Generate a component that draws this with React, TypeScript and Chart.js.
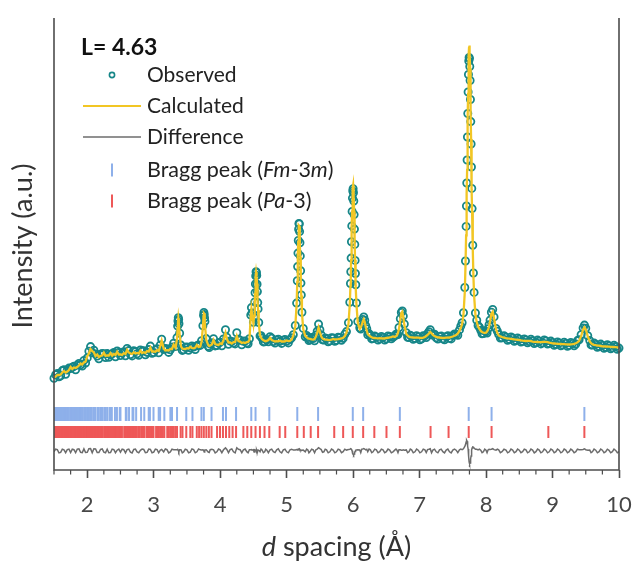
import { useEffect, useRef } from "react";
import { Chart, registerables } from "chart.js";

Chart.register(...registerables);

// d spacing (Å) of each profile point
const dSpacing = [
  1.5, 1.525, 1.55, 1.575, 1.6, 1.625, 1.65, 1.675, 1.7, 1.725,
  1.75, 1.775, 1.8, 1.825, 1.85, 1.875, 1.9, 1.925, 1.95, 1.975,
  2.0, 2.025, 2.05, 2.075, 2.1, 2.125, 2.15, 2.175, 2.2, 2.225,
  2.25, 2.275, 2.3, 2.325, 2.35, 2.375, 2.4, 2.425, 2.45, 2.475,
  2.5, 2.525, 2.55, 2.575, 2.6, 2.625, 2.65, 2.675, 2.7, 2.725,
  2.75, 2.775, 2.8, 2.825, 2.85, 2.875, 2.9, 2.925, 2.95, 2.975,
  3.0, 3.025, 3.05, 3.075, 3.1, 3.12, 3.15, 3.175, 3.2, 3.225,
  3.25, 3.275, 3.3, 3.33, 3.35, 3.36, 3.365, 3.37, 3.375, 3.38,
  3.39, 3.41, 3.43, 3.45, 3.475, 3.5, 3.525, 3.55, 3.575, 3.6,
  3.625, 3.65, 3.675, 3.7, 3.72, 3.74, 3.75, 3.755, 3.76, 3.765,
  3.77, 3.79, 3.82, 3.835, 3.85, 3.875, 3.9, 3.925, 3.95, 3.975,
  4.0, 4.025, 4.05, 4.08, 4.1, 4.125, 4.15, 4.175, 4.2, 4.225,
  4.25, 4.275, 4.3, 4.325, 4.35, 4.375, 4.4, 4.42, 4.44, 4.46,
  4.47, 4.48, 4.5, 4.51, 4.52, 4.525, 4.53, 4.535, 4.54, 4.545,
  4.55, 4.555, 4.56, 4.565, 4.57, 4.58, 4.6, 4.615, 4.63, 4.65,
  4.67, 4.685, 4.7, 4.725, 4.75, 4.775, 4.8, 4.825, 4.85, 4.875,
  4.9, 4.925, 4.95, 4.975, 5.0, 5.025, 5.05, 5.075, 5.1, 5.13,
  5.15, 5.16, 5.165, 5.17, 5.175, 5.18, 5.185, 5.19, 5.195, 5.2,
  5.205, 5.21, 5.215, 5.22, 5.23, 5.25, 5.28, 5.3, 5.32, 5.335,
  5.35, 5.375, 5.4, 5.42, 5.44, 5.46, 5.48, 5.5, 5.52, 5.54,
  5.56, 5.58, 5.6, 5.625, 5.65, 5.675, 5.7, 5.725, 5.75, 5.775,
  5.8, 5.825, 5.85, 5.875, 5.9, 5.93, 5.95, 5.96, 5.965, 5.97,
  5.975, 5.98, 5.985, 5.99, 5.995, 6.0, 6.005, 6.01, 6.015, 6.02,
  6.025, 6.03, 6.035, 6.04, 6.05, 6.07, 6.1, 6.115, 6.13, 6.145,
  6.16, 6.175, 6.19, 6.205, 6.22, 6.24, 6.26, 6.28, 6.3, 6.325,
  6.35, 6.375, 6.4, 6.425, 6.45, 6.475, 6.5, 6.525, 6.55, 6.575,
  6.6, 6.63, 6.645, 6.66, 6.675, 6.69, 6.71, 6.725, 6.74, 6.755,
  6.77, 6.8, 6.82, 6.84, 6.86, 6.88, 6.905, 6.93, 6.955, 6.98,
  7.005, 7.03, 7.055, 7.08, 7.1, 7.12, 7.14, 7.16, 7.18, 7.2,
  7.225, 7.25, 7.275, 7.3, 7.325, 7.35, 7.375, 7.4, 7.425, 7.45,
  7.475, 7.5, 7.525, 7.55, 7.575, 7.6, 7.62, 7.64, 7.66, 7.68,
  7.69, 7.7, 7.705, 7.71, 7.715, 7.72, 7.725, 7.73, 7.735, 7.74,
  7.745, 7.75, 7.755, 7.76, 7.765, 7.77, 7.775, 7.78, 7.785, 7.79,
  7.8, 7.81, 7.82, 7.84, 7.86, 7.88, 7.9, 7.92, 7.94, 7.96,
  7.98, 8.0, 8.015, 8.03, 8.045, 8.06, 8.08, 8.1, 8.12, 8.15,
  8.17, 8.19, 8.215, 8.24, 8.27, 8.3, 8.325, 8.35, 8.375, 8.4,
  8.425, 8.45, 8.475, 8.5, 8.525, 8.55, 8.575, 8.6, 8.625, 8.65,
  8.675, 8.7, 8.725, 8.75, 8.775, 8.8, 8.825, 8.85, 8.875, 8.9,
  8.925, 8.95, 8.975, 9.0, 9.025, 9.05, 9.075, 9.1, 9.125, 9.15,
  9.175, 9.2, 9.225, 9.25, 9.275, 9.3, 9.325, 9.35, 9.375, 9.4,
  9.43, 9.46, 9.48, 9.5, 9.53, 9.56, 9.58, 9.6, 9.625, 9.65,
  9.675, 9.7, 9.725, 9.75, 9.775, 9.8, 9.825, 9.85, 9.875, 9.9,
  9.925, 9.95, 9.975, 10.0,
];

// measured intensity (a.u.)
const observed = [
  91.8, 95.3, 96.4, 93.2, 94.1, 99.4, 100.2, 95.8, 99.9, 101.9,
  101.4, 102.8, 103.8, 100.3, 104.9, 106.6, 105.2, 103.9, 109.6, 107,
  112.1, 118.7, 123.4, 117.2, 119.8, 116.1, 113.9, 111.2, 115.7, 116.6,
  116.2, 112.5, 116.4, 112.7, 115.3, 116.2, 117.5, 113.3, 119.1, 117.4,
  114.5, 116.9, 118.2, 114.2, 121.6, 119.4, 115.4, 114.1, 119.3, 118.4,
  116.2, 114.8, 120.1, 118.9, 119.2, 115.3, 117.6, 120.4, 123.9, 116.7,
  117.5, 120.1, 121.3, 117.2, 125.1, 130.8, 120.6, 121.5, 121.1, 117.6,
  120.2, 122.9, 126.7, 123.5, 132.4, 143.9, 149.1, 152.3, 150.6, 146.2,
  136.8, 124.9, 119.6, 120.3, 122.8, 122.9, 119.7, 122.1, 124.1, 123,
  120.5, 124.2, 125.1, 124.6, 129.3, 144.2, 154.6, 157.5, 155.4, 152.1,
  148.6, 131.4, 123.8, 122.5, 125.9, 127.3, 131.2, 124.1, 124.5, 127,
  127.7, 124.3, 131.1, 140.2, 132.8, 125.8, 128.9, 128.6, 127, 126.1,
  137.3, 130.7, 129.7, 125.3, 128.8, 129, 127.1, 126.2, 131.2, 154.9,
  162.4, 157.1, 147.8, 152.9, 168.1, 177.2, 186, 194.1, 198.3, 197.2,
  194.6, 185.7, 178.4, 167.4, 161.1, 147.5, 134.1, 134.2, 131.8, 128.1,
  128.3, 130.6, 130.1, 128.3, 133.2, 131.8, 128.5, 126.9, 129.9, 130.7,
  128.6, 126.6, 129.7, 130.5, 128.8, 127.1, 130.4, 132.3, 135.2, 144.5,
  166.9, 189.2, 203.4, 216.9, 229.5, 240.8, 246.6, 246.1, 238.4, 227.2,
  214.1, 199.3, 186.9, 175.1, 157.8, 141.6, 133.3, 134.6, 132.5, 129.5,
  130.4, 132.4, 131.5, 129.3, 134.8, 138.9, 145.9, 140.3, 135.1, 130.2,
  129.9, 132.1, 131.4, 128.2, 129.1, 132.2, 131.9, 128.7, 129.8, 132.7,
  132.3, 129.8, 131.6, 135.8, 138.4, 147.3, 167.8, 186.5, 198.2, 211.9,
  228.3, 244.1, 258.6, 271.9, 279, 281.2, 277.3, 269, 255.4, 240.9,
  225.6, 209.6, 196.5, 185.3, 167, 148.5, 142.2, 140.9, 146.9, 150.6,
  153.1, 149.8, 144.4, 141.2, 135.3, 136.4, 134.6, 131.1, 131.4, 133.9,
  132.9, 129.9, 131.2, 133.5, 132.6, 129.9, 131.3, 134.1, 133.4, 131.2,
  132.8, 134.2, 135.7, 135.6, 135.4, 142.5, 151.3, 157.6, 159.1, 153.9,
  146, 137.2, 132.8, 132.4, 134.8, 133.8, 130.7, 131.6, 134.2, 133.1,
  130.3, 131.2, 134.3, 134.1, 132.4, 136.4, 138.3, 140.3, 135.1, 135.9,
  135.8, 132.2, 130.9, 133.6, 134.1, 131.3, 130.2, 133.2, 134.3, 131.7,
  131.1, 134.4, 136.1, 135.8, 134.8, 140.1, 143.9, 147.3, 157.2, 182.5,
  209, 243.6, 264, 287, 310, 333, 356.5, 378, 395.5, 409,
  412.5, 411.4, 403.5, 389.5, 370.5, 348.4, 326, 303, 281.6, 261.4,
  224.8, 197, 177.6, 157, 149.7, 144.4, 142.8, 139.8, 136.3, 136.5,
  139.1, 138.2, 136.9, 141.3, 145.2, 149.9, 157.8, 160.5, 153.1, 141.5,
  138.8, 135.6, 131.9, 132.3, 134.2, 132.8, 129.8, 130.6, 133.1, 131.9,
  128.8, 129.7, 132.1, 130.8, 127.9, 128.6, 131, 130.1, 127.3, 128.4,
  130.7, 129.3, 126.4, 127.5, 129.9, 128.7, 126.1, 127.2, 130, 129,
  126, 126.6, 128.9, 127.5, 124.7, 125.7, 128.1, 126.9, 124.2, 125.1,
  127.7, 126.6, 123.8, 124.8, 127.5, 126.5, 124.3, 126, 129.4, 130.3,
  135.2, 142.1, 144.9, 141.8, 134.3, 129.4, 125.1, 124.9, 127.1, 125.6,
  122.7, 123.6, 125.9, 124.5, 121.8, 122.8, 125.2, 124, 121.3, 122.3,
  124.8, 123.4, 120.8, 121.9,
];

// refined model intensity (a.u.)
const calculated = [
  92.5, 93.5, 95, 95, 95.5, 97.5, 99, 97.5, 98.5, 100,
  103, 101, 102.5, 102, 103, 104.5, 106.5, 105.5, 107.5, 108.5,
  113.5, 116.5, 121, 119, 117.5, 114, 115.5, 112.8, 114, 114.5,
  117.3, 114.2, 114.6, 114.5, 116.9, 114.3, 116.1, 115, 118.3, 115.5,
  115.6, 115, 116.9, 116, 120.2, 117.5, 116.5, 116, 117.8, 116.5,
  117.1, 116.5, 119.4, 117, 117.7, 117, 119, 118.5, 122.3, 118.5,
  118.6, 118.2, 119.9, 119, 124.2, 129.3, 121.5, 119.5, 119.8, 119.5,
  121.1, 121, 125.4, 122.3, 131.2, 142.2, 148, 151.6, 151.3, 147.1,
  135.6, 123.7, 121.5, 121.2, 121, 121.8, 121.5, 123.2, 122, 121.6,
  122.3, 125, 123, 123.4, 128.2, 142.9, 153.8, 156.7, 156.3, 153,
  147.8, 130.2, 124.9, 124, 124.6, 125.5, 130, 126, 125.3, 125,
  126.6, 126, 129.9, 137.1, 131.2, 127.5, 127.5, 126.5, 127.8, 128,
  134.1, 129, 128.4, 127, 127.6, 127, 127.8, 128, 130, 153.6,
  161, 156.2, 146.5, 153.8, 166.8, 176, 185.3, 193.2, 197.7, 198,
  193.7, 186.3, 177.2, 168, 160, 146.6, 134.9, 132.3, 130.7, 129.8,
  129.1, 128.8, 129, 130, 132.1, 130, 129.2, 128.5, 128.8, 128.6,
  129.4, 128.5, 128.5, 128.7, 129.6, 128.9, 129.2, 130.5, 134.3, 143.4,
  165.5, 188.1, 202, 215.4, 228.2, 239.2, 244.5, 243.8, 236.9, 226,
  213.2, 198.7, 186, 174.4, 157, 140.7, 134.1, 132.8, 131.6, 131.3,
  131.2, 130.6, 130.4, 131, 133.5, 137, 142.6, 138, 133.7, 131.5,
  130.7, 130.3, 130.3, 130, 129.9, 130.3, 131, 130.5, 130.6, 130.8,
  131.2, 131.5, 132.3, 134, 137.5, 145.9, 166, 184.4, 196, 209.8,
  226.8, 242.9, 258.4, 273, 281.5, 284.6, 281.5, 273.1, 258.5, 243.1,
  227, 210, 196.2, 184.6, 166.1, 147.3, 141.1, 142.5, 145, 148.5,
  150.7, 148, 143.2, 139.5, 136, 134.5, 133.5, 132.8, 132.2, 132,
  131.8, 131.7, 131.9, 131.6, 131.5, 131.7, 132, 132.2, 132.5, 133,
  133.6, 133.1, 133.8, 134.7, 137, 141.2, 150.1, 156.8, 158.3, 152.8,
  145.2, 136.1, 134.5, 133.2, 132.9, 132.7, 132.5, 132.4, 132.3, 132.3,
  132.1, 132, 132.4, 133, 134, 135, 136.5, 138, 136.8, 135,
  134, 133, 132.7, 132.5, 132.2, 132, 132.1, 132.3, 132.4, 132.5,
  133, 133.5, 134.2, 135, 136.5, 139, 142, 146, 155, 178,
  202.8, 234.6, 254.2, 276.2, 300.2, 325.4, 351.5, 376, 397.5, 414.2,
  423.5, 424.4, 416.5, 401.5, 380.5, 356.4, 330.9, 305.2, 280.6, 258.4,
  220.8, 193.2, 174.6, 155.2, 148, 143.4, 141, 139, 138, 137.3,
  137.2, 137.3, 138.5, 140.2, 143.5, 148.4, 156, 158.2, 151.7, 140.7,
  137, 134.5, 133.6, 133, 132.4, 131.9, 131.6, 131.4, 131.2, 130.9,
  130.6, 130.4, 130.2, 130, 129.6, 129.3, 129.1, 129, 129.1, 129.2,
  128.8, 128.4, 128.2, 128.1, 128, 127.8, 127.9, 128, 128.1, 128.2,
  127.8, 127.4, 127, 126.6, 126.5, 126.4, 126.2, 126.1, 126, 125.9,
  125.8, 125.7, 125.6, 125.5, 125.6, 125.8, 126.1, 126.7, 127.6, 129.1,
  133.9, 140.6, 142.8, 140.5, 133.6, 128.5, 126.8, 125.7, 125.2, 124.8,
  124.5, 124.3, 124, 123.7, 123.6, 123.5, 123.4, 123.3, 123.1, 123,
  122.9, 122.8, 122.6, 122.5,
];

// reflection positions (Å), cubic Fm-3m phase
const braggFm3m = [
  1.511, 1.518, 1.528, 1.53, 1.538, 1.548, 1.55, 1.558, 1.569, 1.572,
  1.58, 1.594, 1.602, 1.614, 1.617, 1.626, 1.638, 1.641, 1.65, 1.663,
  1.666, 1.676, 1.692, 1.702, 1.716, 1.72, 1.745, 1.749, 1.76, 1.776,
  1.779, 1.791, 1.812, 1.824, 1.841, 1.846, 1.859, 1.877, 1.882, 1.896,
  1.915, 1.92, 1.935, 1.961, 1.976, 1.998, 2.004, 2.021, 2.044, 2.05,
  2.068, 2.094, 2.1, 2.12, 2.153, 2.175, 2.204, 2.211, 2.234, 2.266,
  2.274, 2.299, 2.334, 2.342, 2.37, 2.417, 2.447, 2.489, 2.5, 2.58,
  2.592, 2.629, 2.681, 2.694, 2.736, 2.81, 2.858, 2.925, 2.943, 2.997,
  3.075, 3.096, 3.16, 3.251, 3.275, 3.351, 3.49, 3.583, 3.718, 3.754,
  3.87, 4.042, 4.088, 4.239, 4.468, 4.532, 4.739, 5.16, 5.473, 5.995,
  6.151, 6.703, 7.739, 8.083, 9.479,
];

// reflection positions (Å), cubic Pa-3 phase
const braggPa3 = [
  1.503, 1.513, 1.523, 1.533, 1.543, 1.553, 1.564, 1.574, 1.585, 1.597,
  1.608, 1.62, 1.632, 1.644, 1.656, 1.669, 1.682, 1.696, 1.709, 1.723,
  1.738, 1.753, 1.768, 1.783, 1.799, 1.812, 1.824, 1.841, 1.854, 1.868,
  1.882, 1.896, 1.915, 1.93, 1.945, 1.961, 1.971, 1.987, 1.998, 2.009,
  2.021, 2.038, 2.05, 2.062, 2.081, 2.094, 2.106, 2.12, 2.14, 2.153,
  2.167, 2.189, 2.204, 2.219, 2.234, 2.258, 2.266, 2.274, 2.282, 2.29,
  2.299, 2.316, 2.325, 2.334, 2.342, 2.36, 2.37, 2.388, 2.398, 2.417,
  2.427, 2.437, 2.447, 2.468, 2.479, 2.489, 2.5, 2.511, 2.522, 2.556,
  2.568, 2.58, 2.592, 2.604, 2.616, 2.629, 2.655, 2.668, 2.681, 2.694,
  2.708, 2.722, 2.736, 2.765, 2.78, 2.81, 2.826, 2.842, 2.858, 2.891,
  2.908, 2.925, 2.943, 2.961, 2.979, 2.997, 3.036, 3.055, 3.075, 3.096,
  3.117, 3.138, 3.16, 3.204, 3.228, 3.251, 3.275, 3.3, 3.325, 3.351,
  3.405, 3.433, 3.49, 3.551, 3.583, 3.648, 3.683, 3.718, 3.754, 3.792,
  3.83, 3.87, 3.953, 3.997, 4.042, 4.088, 4.137, 4.187, 4.239, 4.349,
  4.408, 4.468, 4.532, 4.598, 4.667, 4.739, 4.895, 4.979, 5.16, 5.258,
  5.362, 5.473, 5.716, 5.85, 5.995, 6.151, 6.319, 6.502, 6.703, 7.165,
  7.436, 7.739, 8.083, 8.937, 9.479,
];

const xTickValues = [2, 3, 4, 5, 6, 7, 8, 9, 10];
const refinementLabel = "L= 4.63";

// vertical placement of the lower traces, in intensity units
const DIFF_OFFSET = 19;
const ROW_FM3M = 56;
const ROW_PA3 = 38;

const TEAL = "rgb(22,134,136)";
const YELLOW = "rgb(242,198,36)";
const GRAY = "rgb(108,108,108)";
const BLUE = "rgb(142,176,234)";
const RED = "rgb(238,88,88)";
const AXIS = "#4d4d4d";
const FONT = "Lato, 'Open Sans', sans-serif";

type Run = { text: string; italic?: boolean; bold?: boolean };

function drawRuns(
  ctx: CanvasRenderingContext2D,
  runs: Run[],
  x: number,
  y: number,
  size: number,
  color: string,
  align: "left" | "center"
) {
  const fontFor = (r: Run) =>
    `${r.italic ? "italic " : ""}${r.bold ? "bold " : ""}${size}px ${FONT}`;
  let total = 0;
  for (const r of runs) {
    ctx.font = fontFor(r);
    total += ctx.measureText(r.text).width;
  }
  let cx = align === "center" ? x - total / 2 : x;
  ctx.fillStyle = color;
  ctx.textAlign = "left";
  for (const r of runs) {
    ctx.font = fontFor(r);
    ctx.fillText(r.text, cx, y);
    cx += ctx.measureText(r.text).width;
  }
}

const decorPlugin = {
  id: "refinementDecor",
  afterDraw(chart: any) {
    const { ctx, chartArea } = chart;
    const xs = chart.scales.x;
    const { left, right, top, bottom } = chartArea;
    ctx.save();

    // frame
    ctx.strokeStyle = AXIS;
    ctx.lineWidth = 1.6;
    ctx.beginPath();
    ctx.moveTo(left, top);
    ctx.lineTo(left, bottom);
    ctx.lineTo(right, bottom);
    ctx.lineTo(right, top);
    ctx.stroke();

    // minor ticks every 0.25 Å
    ctx.lineWidth = 1.2;
    ctx.beginPath();
    for (let k = 0; k <= 34; k++) {
      const v = xs.min + k * 0.25;
      if (Math.abs(v - Math.round(v)) < 1e-6) continue;
      const px = xs.getPixelForValue(v);
      ctx.moveTo(px, bottom);
      ctx.lineTo(px, bottom + 4.5);
    }
    ctx.stroke();

    // axis titles
    ctx.textBaseline = "alphabetic";
    drawRuns(
      ctx,
      [{ text: "d", italic: true }, { text: " spacing (Å)" }],
      (left + right) / 2,
      bottom + 86,
      27,
      "#333",
      "center"
    );
    ctx.save();
    ctx.translate(left - 22, (top + bottom) / 2 + 2);
    ctx.rotate(-Math.PI / 2);
    drawRuns(ctx, [{ text: "Intensity (a.u.)" }], 0, 0, 27, "#333", "center");
    ctx.restore();

    // legend
    const lx = left + 29;
    const tx = left + 93;
    const mx = left + 58;
    ctx.textBaseline = "middle";
    drawRuns(ctx, [{ text: refinementLabel, bold: true }], lx - 2, top + 30, 23, "#111", "left");

    const rows = [top + 57, top + 88, top + 119, top + 152, top + 183];

    ctx.strokeStyle = TEAL;
    ctx.lineWidth = 1.6;
    ctx.beginPath();
    ctx.arc(mx, rows[0], 2.6, 0, Math.PI * 2);
    ctx.stroke();
    drawRuns(ctx, [{ text: "Observed" }], tx, rows[0], 21, "#222", "left");

    ctx.strokeStyle = YELLOW;
    ctx.lineWidth = 2.2;
    ctx.beginPath();
    ctx.moveTo(lx, rows[1]);
    ctx.lineTo(tx - 6, rows[1]);
    ctx.stroke();
    drawRuns(ctx, [{ text: "Calculated" }], tx, rows[1], 21, "#222", "left");

    ctx.strokeStyle = GRAY;
    ctx.lineWidth = 1.5;
    ctx.beginPath();
    ctx.moveTo(lx, rows[2]);
    ctx.lineTo(tx - 6, rows[2]);
    ctx.stroke();
    drawRuns(ctx, [{ text: "Difference" }], tx, rows[2], 21, "#222", "left");

    ctx.strokeStyle = BLUE;
    ctx.lineWidth = 2;
    ctx.beginPath();
    ctx.moveTo(mx, rows[3] - 6.5);
    ctx.lineTo(mx, rows[3] + 6.5);
    ctx.stroke();
    drawRuns(
      ctx,
      [
        { text: "Bragg peak (" },
        { text: "Fm", italic: true },
        { text: "-3" },
        { text: "m", italic: true },
        { text: ")" },
      ],
      tx,
      rows[3],
      21.5,
      "#222",
      "left"
    );

    ctx.strokeStyle = RED;
    ctx.beginPath();
    ctx.moveTo(mx, rows[4] - 6.5);
    ctx.lineTo(mx, rows[4] + 6.5);
    ctx.stroke();
    drawRuns(
      ctx,
      [{ text: "Bragg peak (" }, { text: "Pa", italic: true }, { text: "-3)" }],
      tx,
      rows[4],
      21.5,
      "#222",
      "left"
    );

    ctx.restore();
  },
};

export default function App() {
  const canvasRef = useRef<HTMLCanvasElement | null>(null);

  useEffect(() => {
    if (!canvasRef.current) return;

    const obsPts = dSpacing.map((d, i) => ({ x: d, y: observed[i] }));
    const calcPts = dSpacing.map((d, i) => ({ x: d, y: calculated[i] }));
    const diffPts = dSpacing.map((d, i) => ({
      x: d,
      y: observed[i] - calculated[i] + DIFF_OFFSET,
    }));
    const fmPts = braggFm3m.map((d) => ({ x: d, y: ROW_FM3M }));
    const paPts = braggPa3.map((d) => ({ x: d, y: ROW_PA3 }));

    const chart = new Chart(canvasRef.current, {
      type: "scatter",
      data: {
        datasets: [
          {
            label: "Calculated",
            data: calcPts,
            showLine: true,
            borderColor: YELLOW,
            borderWidth: 2.3,
            pointRadius: 0,
            order: 0,
          },
          {
            label: "Difference",
            data: diffPts,
            showLine: true,
            borderColor: GRAY,
            borderWidth: 1.5,
            pointRadius: 0,
            order: 1,
          },
          {
            label: "Observed",
            data: obsPts,
            showLine: false,
            pointStyle: "circle",
            pointRadius: 3.6,
            pointBorderWidth: 1.8,
            pointBorderColor: TEAL,
            pointBackgroundColor: "rgba(255,255,255,0)",
            clip: 6,
            order: 2,
          },
          {
            label: "Bragg peak (Fm-3m)",
            data: fmPts,
            showLine: false,
            pointStyle: "line",
            pointRotation: 90,
            pointRadius: 7,
            pointBorderWidth: 2,
            pointBorderColor: BLUE,
            order: 3,
          },
          {
            label: "Bragg peak (Pa-3)",
            data: paPts,
            showLine: false,
            pointStyle: "line",
            pointRotation: 90,
            pointRadius: 6,
            pointBorderWidth: 2,
            pointBorderColor: RED,
            order: 4,
          },
        ] as any,
      },
      options: {
        responsive: false,
        maintainAspectRatio: false,
        animation: false,
        layout: { padding: { left: 54, right: 15, top: 18, bottom: 0 } },
        plugins: {
          legend: { display: false },
          tooltip: { enabled: false },
        },
        scales: {
          x: {
            type: "linear",
            min: 1.5,
            max: 10,
            afterBuildTicks: (scale: any) => {
              scale.ticks = xTickValues.map((v) => ({ value: v }));
            },
            afterFit: (scale: any) => {
              scale.height = 95;
              scale.paddingLeft = 0;
              scale.paddingRight = 0;
            },
            border: { display: false },
            grid: {
              display: true,
              drawOnChartArea: false,
              drawTicks: true,
              tickLength: 8,
              tickWidth: 1.6,
              tickColor: AXIS,
            },
            ticks: {
              padding: 14,
              color: "#474747",
              font: { family: FONT, size: 22 },
              maxRotation: 0,
              callback: (v: any) => String(v),
            },
          },
          y: {
            type: "linear",
            min: 0,
            max: 452,
            display: false,
          },
        },
      } as any,
      plugins: [decorPlugin],
    });

    return () => chart.destroy();
  }, []);

  return (
    <div style={{ position: "fixed", left: 0, top: 0, width: 634, height: 565, background: "#fff" }}>
      <canvas ref={canvasRef} width={634} height={565} style={{ display: "block" }} />
    </div>
  );
}
